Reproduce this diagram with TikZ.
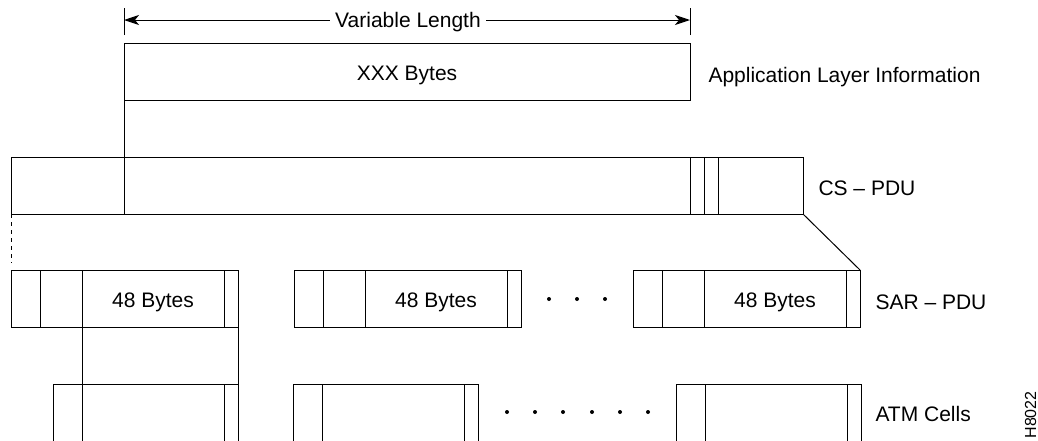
\documentclass[tikz,border=0pt]{standalone}
\usepackage{fontspec}
\setmainfont{Liberation Sans}
\usetikzlibrary{arrows.meta}

\tikzstyle{frame} = [rectangle, draw=black, minimum height=57pt, inner sep=0pt, outer sep=0pt, anchor=north west]
\tikzstyle{cell} = [frame, minimum width=185pt, minimum height=80pt]
\tikzstyle{txt} = [font=\fontsize{21}{24}\selectfont, inner sep=0pt, anchor=base]
\tikzstyle{layer} = [txt, anchor=base west]
\tikzstyle{arrow} = [-{Stealth[length=15pt, width=10pt, inset=4pt]}]

\begin{document}
\begin{tikzpicture}[x=1pt, y=-1pt, line width=1pt]
    \useasboundingbox (0,0) rectangle (1038,440);
    \clip (0,0) rectangle (1038,440);

    % application layer
    \node (app) [frame, minimum width=566pt] at (124,43) {};
    \node (xxx) [txt] at (407,80) {XXX Bytes};
    \node (applbl) [layer] at (708,82) {Application Layer Information};
    \node (vlen) [txt, inner xsep=5pt] at (408,27) {Variable Length};
    \coordinate (vl) at (124,20);
    \coordinate (vr) at (690,20);
    \draw (app.north west) ++(0,-8) -- ++(0,-27);
    \draw (app.north east) ++(0,-8) -- ++(0,-27);
    \draw [arrow] (vlen.west |- vl) -- (vl);
    \draw [arrow] (vlen.east |- vr) -- (vr);

    % CS-PDU
    \node (cs) [frame, minimum width=792pt] at (11,157) {};
    \node (cslbl) [layer] at (818,195) {CS – PDU};
    \draw (app.south west) -- (app.south west |- cs.south);
    \foreach \d in {679,693,707}
        \draw (cs.north west) ++(\d,0) -- ++(0,57);
    \coordinate (dashend) at (11,263);
    \draw [dash pattern=on 4pt off 4pt] (cs.south west) -- (dashend);

    % SAR-PDU
    \foreach \n/\x in {sar1/11, sar2/294, sar3/633} {
        \node (\n) [frame, minimum width=227pt] at (\x,270) {};
        \node (\n-txt) [txt] at (\x+142,307) {48 Bytes};
        \foreach \d in {29,71,213}
            \draw (\n.north west) ++(\d,0) -- ++(0,57);
    }
    \node (sarlbl) [layer] at (875,309) {SAR – PDU};
    \foreach \x in {549,577,605}
        \fill (\x,299) circle (2pt);
    \draw (cs.south east) -- (sar3.north east);

    % ATM cells
    \foreach \n/\x in {atm1/53, atm2/293, atm3/676} {
        \node (\n) [cell] at (\x,384) {};
        \foreach \d in {29,171}
            \draw (\n.north west) ++(\d,0) -- ++(0,80);
    }
    \node (atmlbl) [layer] at (875,421) {ATM Cells};
    \foreach \x in {507,535,563,592,620,648}
        \fill (\x,412) circle (2pt);
    \coordinate (sarcut) at (82,327);
    \draw (sarcut) -- (sarcut |- atm1.north);
    \draw (sar1.south east) -- (atm1.north east);

    \node (fig) [font=\fontsize{16}{18}\selectfont, inner sep=0pt, anchor=base west, rotate=90] at (1036,439) {H8022};
\end{tikzpicture}
\end{document}
